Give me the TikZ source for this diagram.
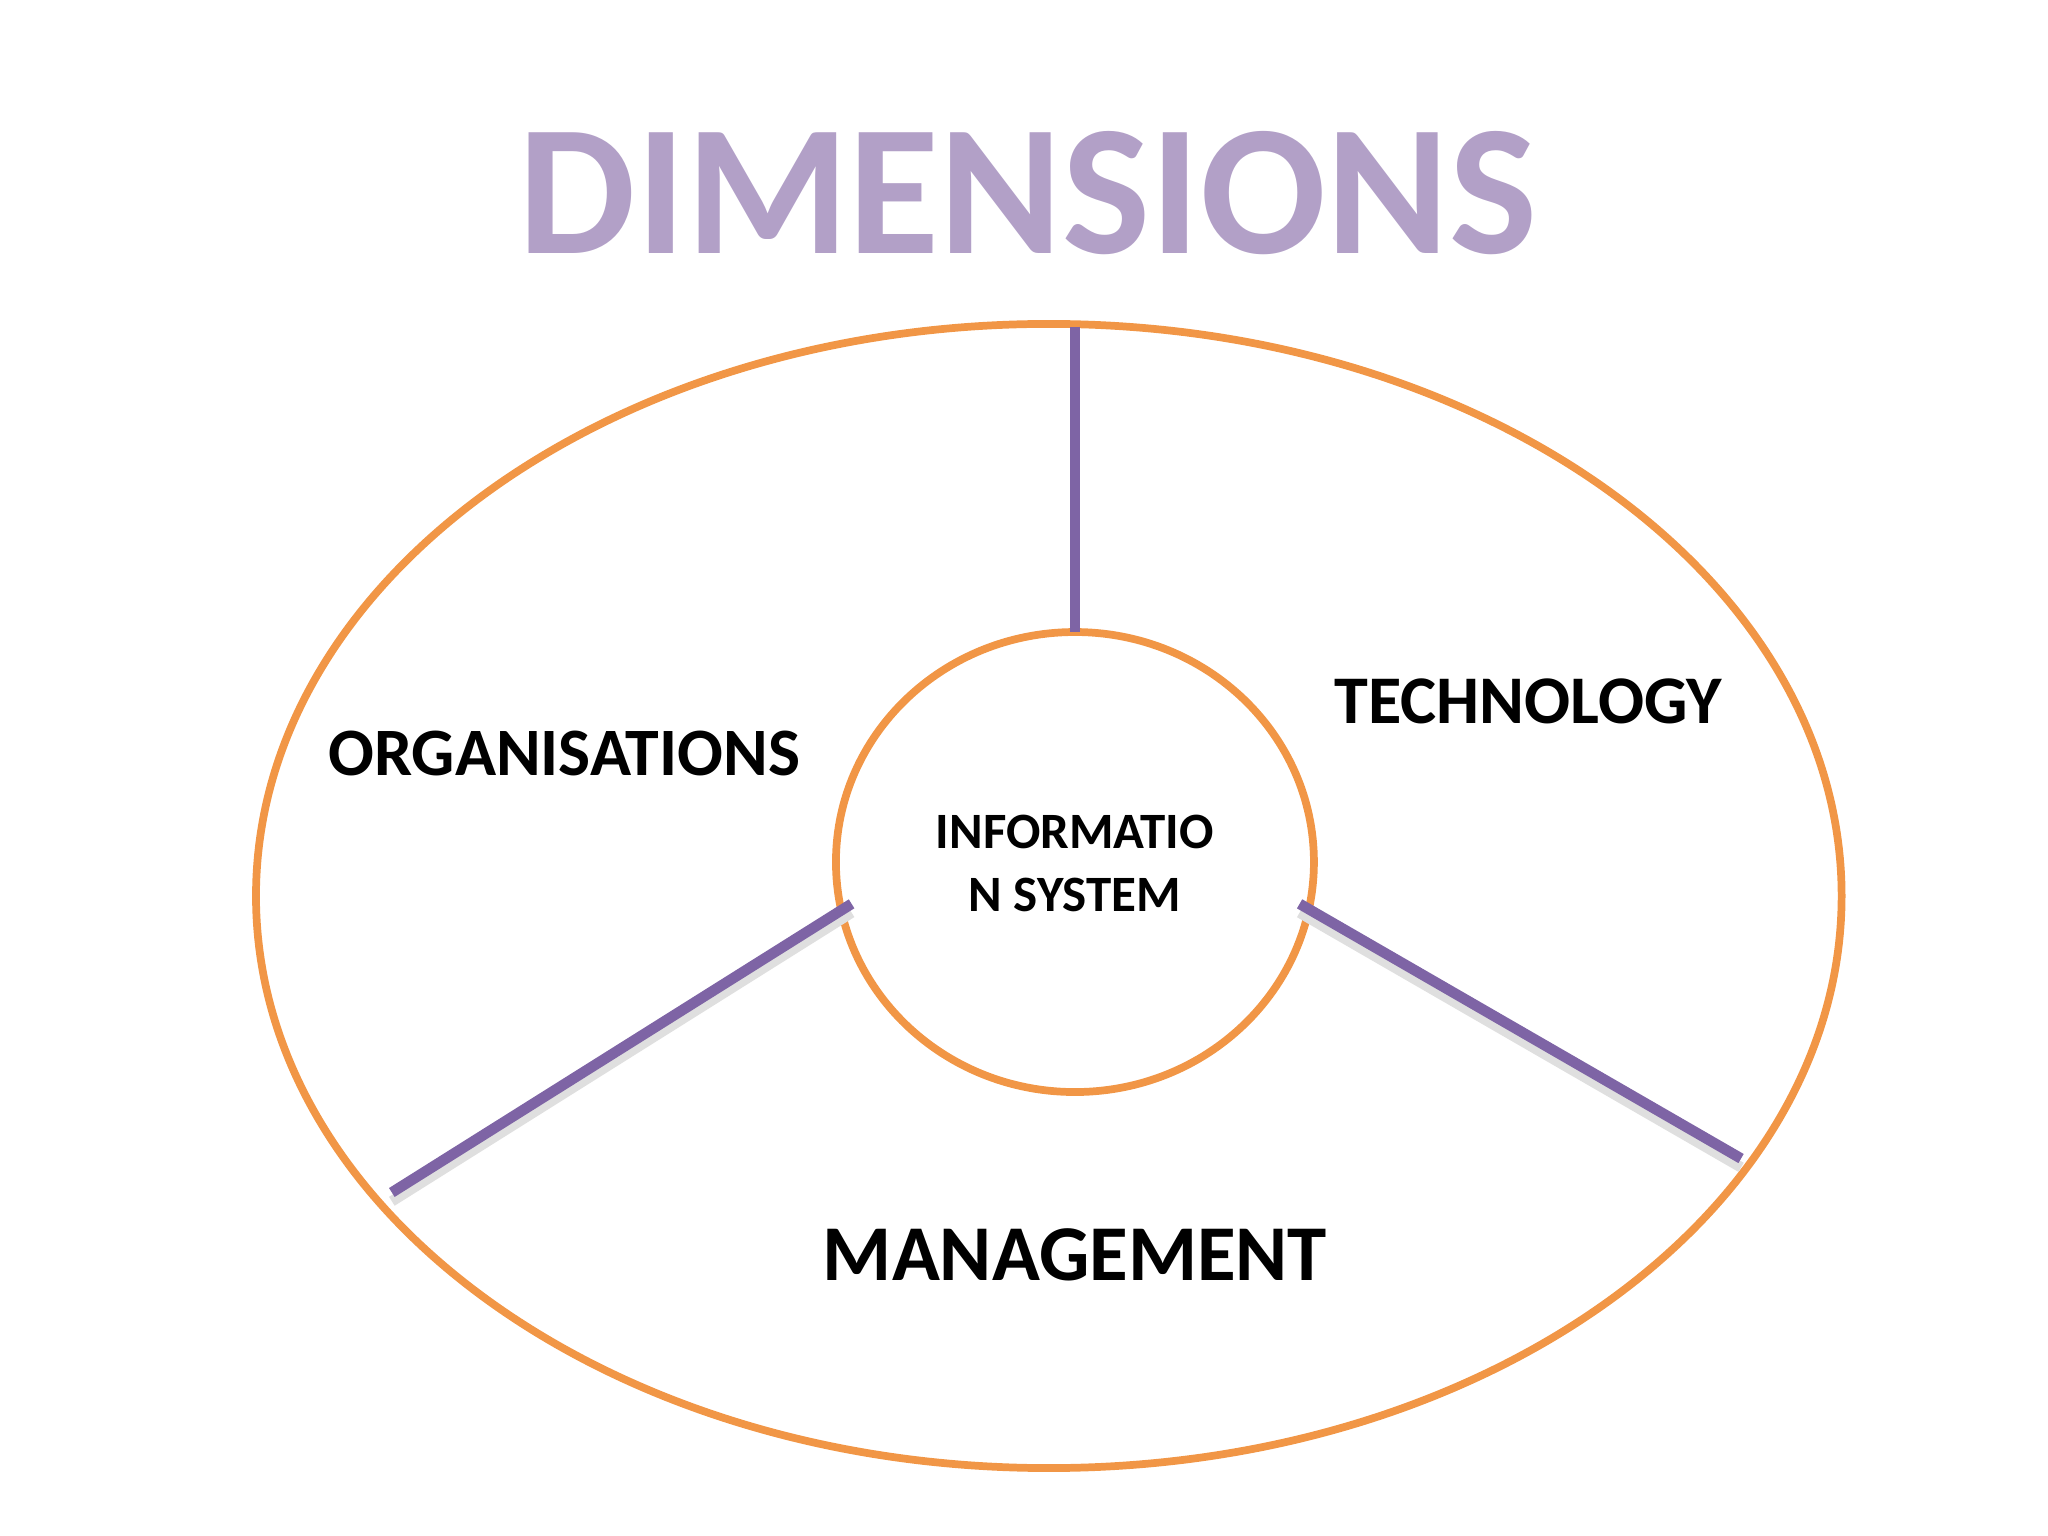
\documentclass[tikz,border=0pt]{standalone}
\usepackage{fontspec}
\usetikzlibrary{shapes.geometric}
\setmainfont{Carlito}
\definecolor{lav}{RGB}{178,160,199}
\definecolor{org}{RGB}{241,150,70}
\definecolor{pur}{RGB}{126,100,165}
\tikzset{lbl/.style={font=\bfseries, text=black, inner sep=0pt},
  ring/.style={draw=org, line width=2.2pt},
  spoke/.style={draw=pur, line width=3pt},
  shade/.style={draw=gray!25, line width=3pt, transform canvas={yshift=-2.5pt}}}
\begin{document}
\begin{tikzpicture}[x=0.013061cm,y=-0.013061cm]
\useasboundingbox (0,0) rectangle (1568,1176);
\draw[ring] (803,686) ellipse [x radius=607, y radius=438];
\node[ring, ellipse, minimum width=4.78cm, minimum height=4.6cm, inner sep=0pt] (is) at (823,660) {};
\node[font=\bfseries\fontsize{53}{53}\selectfont, text=lav, inner sep=0pt] (title) at (787,148) {DIMENSIONS};
\node[lbl, font=\bfseries\fontsize{19.3}{19.3}\selectfont] (orgn) at (432,577) {ORGANISATIONS};
\node[lbl, font=\bfseries\fontsize{19.4}{19.4}\selectfont] (tech) at (1170,537) {TECHNOLOGY};
\node[lbl, font=\bfseries\fontsize{22.5}{22.5}\selectfont] (mgmt) at (823,961) {MANAGEMENT};
\node[lbl, font=\bfseries\fontsize{14.5}{18}\selectfont, align=center] (istext) at (823,661) {INFORMATIO\\N SYSTEM};
\coordinate (t1) at (823,250); \coordinate (t2) at (823,484);
\coordinate (l1) at (652,692); \coordinate (l2) at (300,913);
\coordinate (r1) at (995,692); \coordinate (r2) at (1333,887);
\draw[spoke] (t1) -- (t2);
\draw[shade] (l1) -- (l2);
\draw[shade] (r1) -- (r2);
\draw[spoke] (l1) -- (l2);
\draw[spoke] (r1) -- (r2);
\end{tikzpicture}
\end{document}
